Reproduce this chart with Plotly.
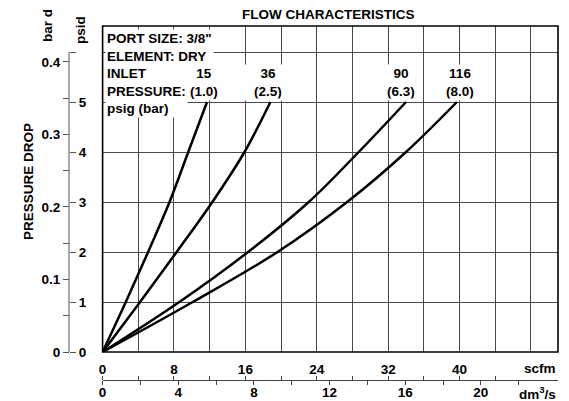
import plotly.graph_objects as go

# ---- data ----
psid_levels = [0, 1, 2, 3, 4, 5]
flow_15psig = [0, 2.6, 5.1, 7.5, 9.6, 11.7]     # scfm
flow_36psig = [0, 4.2, 8.3, 12.3, 15.9, 18.8]
flow_90psig = [0, 8.6, 16.3, 23.1, 28.7, 34.0]
flow_116psig = [0, 10.1, 19.6, 27.4, 34.0, 39.7]

scfm_ticks = [0, 4, 8, 12, 16, 20, 24, 28, 32, 36, 40, 44, 48]
scfm_labels = ["0", "", "8", "", "16", "", "24", "", "32", "", "40", "", ""]
dm3_ticks = [0, 2, 4, 6, 8, 10, 12, 14, 16, 18, 20, 22]
dm3_label_vals = [0, 4, 8, 12, 16, 20]
dm3_labels = ["0", "4", "8", "12", "16", "20"]
psid_ticks = [0, 1, 2, 3, 4, 5, 6]
psid_labels = ["0", "1", "2", "3", "4", "5", ""]
bar_ticks = [0, 0.05, 0.1, 0.15, 0.2, 0.25, 0.3, 0.35, 0.4]
bar_labels = ["0", "", "0.1", "", "0.2", "", "0.3", "", "0.4"]

SCFM_MAX = 51.03
PSID_MAX = 6.52
PSI_TO_BAR = 0.0689476
SCFM_TO_DM3S = 0.4719

# ---- layout geometry helpers (page pixels; page body has an 8px margin) ----
W, H = 569, 401
OFF = 8
ML, MR, MT, MB = 10, 11, 26, 5
PW, PH = W - ML - MR, H - MT - MB


def px(x):
    return (x - ML) / PW


def py(y):
    return (H - MB - y) / PH


FONT = "Liberation Sans, Arial, sans-serif"
BF = dict(family=FONT, size=13.5, color="black", weight="bold")

fig = go.Figure()
for xs in [flow_15psig, flow_36psig, flow_90psig, flow_116psig]:
    fig.add_trace(go.Scatter(x=xs, y=psid_levels, mode="lines",
                             line=dict(color="black", width=2.5, shape="spline", smoothing=1.0),
                             showlegend=False, hoverinfo="skip"))
# empty traces so the secondary axes exist
fig.add_trace(go.Scatter(x=[], y=[], xaxis="x2", yaxis="y2", showlegend=False))
fig.add_trace(go.Scatter(x=[], y=[], xaxis="x3", yaxis="y2", showlegend=False))
fig.add_trace(go.Scatter(x=[], y=[], xaxis="x4", yaxis="y2", showlegend=False))

yax_pos = px(69)
xax2_pos = py(380)
GRID = "#4a4a4a"
DM_MAX = SCFM_MAX * SCFM_TO_DM3S

fig.update_layout(
    width=W - OFF, height=H - OFF, template="none",
    margin=dict(l=ML - OFF, r=MR, t=MT - OFF, b=MB),
    paper_bgcolor="white", plot_bgcolor="white",
    font=BF, showlegend=False,
    xaxis=dict(domain=[px(102.6), 1], range=[0, SCFM_MAX], tickvals=scfm_ticks, ticktext=scfm_labels,
               showgrid=True, gridcolor=GRID, gridwidth=1, zeroline=False, showline=False,
               ticks="outside", ticklen=5, tickcolor="rgba(0,0,0,0)", tickfont=BF),
    yaxis=dict(domain=[py(352), 1], range=[0, PSID_MAX], anchor="free", position=yax_pos, side="right",
               tickvals=psid_ticks, ticktext=psid_labels, showgrid=True, gridcolor=GRID, gridwidth=1,
               zeroline=False, showline=False, ticks="outside", ticklen=6, tickcolor="#555", tickfont=BF),
    yaxis2=dict(overlaying="y", range=[0, PSID_MAX * PSI_TO_BAR], anchor="free", position=yax_pos, side="left",
                tickvals=bar_ticks, ticktext=bar_labels, showgrid=False, zeroline=False, showline=False,
                ticks="outside", ticklen=6, tickcolor="#555", tickfont=BF),
    # dm3/s labels and axis line
    xaxis2=dict(overlaying="x", range=[0, DM_MAX], anchor="free", position=xax2_pos,
                side="bottom", tickvals=dm3_label_vals, ticktext=dm3_labels, showgrid=False, zeroline=False,
                showline=True, linecolor="#444", linewidth=1, ticks="", tickfont=BF),
    # dm3/s ticks (downward)
    xaxis4=dict(overlaying="x", range=[0, DM_MAX], anchor="free", position=xax2_pos,
                side="bottom", tickvals=dm3_ticks, showticklabels=False, showgrid=False, zeroline=False,
                showline=False, ticks="outside", ticklen=4, tickcolor="#444"),
    # scfm ticks (upward) on the same line
    xaxis3=dict(overlaying="x", range=[0, SCFM_MAX], anchor="free", position=xax2_pos, side="top",
                tickvals=scfm_ticks[:-1], showticklabels=False, showgrid=False, zeroline=False, showline=False,
                ticks="outside", ticklen=4, tickcolor="#444"),
)

# plot frame and left axis line
fig.add_shape(type="rect", xref="x domain", yref="y domain", x0=0, x1=1, y0=0, y1=1,
              line=dict(color="black", width=1.6))
fig.add_shape(type="line", xref="paper", yref="y", x0=yax_pos, x1=yax_pos, y0=0, y1=6,
              line=dict(color="#555", width=1))


def ann(text, x, y, xanchor="center", angle=0, bg=None, width=None, align="center"):
    d = dict(text=text, x=px(x), y=py(y), xref="paper", yref="paper", xanchor=xanchor, yanchor="middle",
             showarrow=False, font=BF, textangle=angle, align=align)
    if bg:
        d.update(bgcolor=bg, borderpad=1)
    if width:
        d.update(width=width)
    fig.add_annotation(**d)


ann("FLOW CHARACTERISTICS", 328, 14)
ann("PRESSURE DROP", 28, 182, angle=-90)
ann("bar d", 47, 26, angle=-90)
ann("psid", 80, 30, angle=-90)
ann("scfm", 558, 368, xanchor="right")
ann("dm<sup>3</sup>/s", 558, 393, xanchor="right")

ann('PORT SIZE: 3/8"<br>ELEMENT: DRY', 105, 48, xanchor="left", bg="white", align="left")
ann("15<br>(1.0)", 204, 82, bg="white")
ann("36<br>(2.5)", 268, 82, bg="white", width=46)
ann("90<br>(6.3)", 401, 82, bg="white", width=38)
ann("116<br>(8.0)", 460, 82, bg="white", width=38)
ann("INLET<br>PRESSURE:<br>psig (bar)", 105, 91, xanchor="left", bg="white", align="left")

fig.write_html("out.html")
